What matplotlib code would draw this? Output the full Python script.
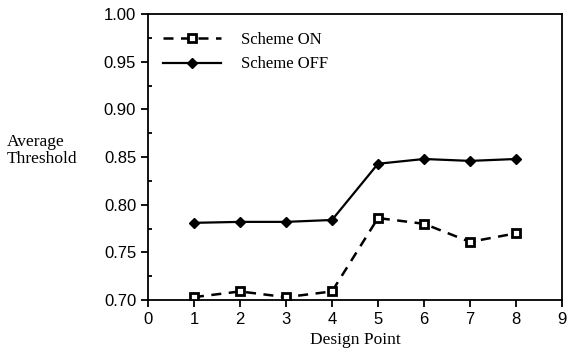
import numpy as np
import matplotlib.pyplot as plt
from matplotlib.ticker import MultipleLocator

design_point = [1, 2, 3, 4, 5, 6, 7, 8]
scheme_on = [0.703, 0.709, 0.703, 0.709, 0.786, 0.780, 0.761, 0.770]
scheme_off = [0.781, 0.782, 0.782, 0.784, 0.843, 0.848, 0.846, 0.848]

serif = 'Liberation Serif'
sans = 'Liberation Sans'

fig = plt.figure(figsize=(5.7, 3.54), dpi=100)
ax = fig.add_axes([0.2596, 0.1525, 0.7264, 0.8075])

ax.plot(design_point, scheme_on, color='black', linestyle=(0, (4, 3)), lw=1.8,
        marker='s', markersize=5.5, markerfacecolor='white', markeredgewidth=2,
        label='Scheme ON')
ax.plot(design_point, scheme_off, color='black', linestyle='-', lw=1.6,
        marker='D', markersize=5.5, label='Scheme OFF')

ax.set_xlim(0, 9)
ax.set_ylim(0.70, 1.00)
ax.set_xticks(range(0, 10))
ax.set_yticks(np.arange(0.70, 1.001, 0.05))
ax.set_yticklabels(['%.2f' % v for v in np.arange(0.70, 1.001, 0.05)])
ax.yaxis.set_minor_locator(MultipleLocator(0.025))

for s in ax.spines.values():
    s.set_linewidth(1.3)
ax.tick_params(axis='both', which='major', direction='out', length=5, width=1.3,
               labelsize=12)
ax.tick_params(axis='y', which='minor', direction='in', length=3, width=1.3)
for lab in ax.get_xticklabels() + ax.get_yticklabels():
    lab.set_fontfamily(sans)

ax.set_xlabel('Design Point', fontfamily=serif, fontsize=12.5, labelpad=4)
fig.text(0.012, 0.575, 'Average\nThreshold', fontfamily=serif, fontsize=12.5,
         ha='left', va='center', linespacing=1.1)

leg = ax.legend(loc='upper left', frameon=False, prop={'family': serif, 'size': 12},
                handlelength=3.5, handletextpad=1.2, bbox_to_anchor=(0.0, 0.99),
                labelspacing=0.5)

fig.savefig('out.png', dpi=100)
